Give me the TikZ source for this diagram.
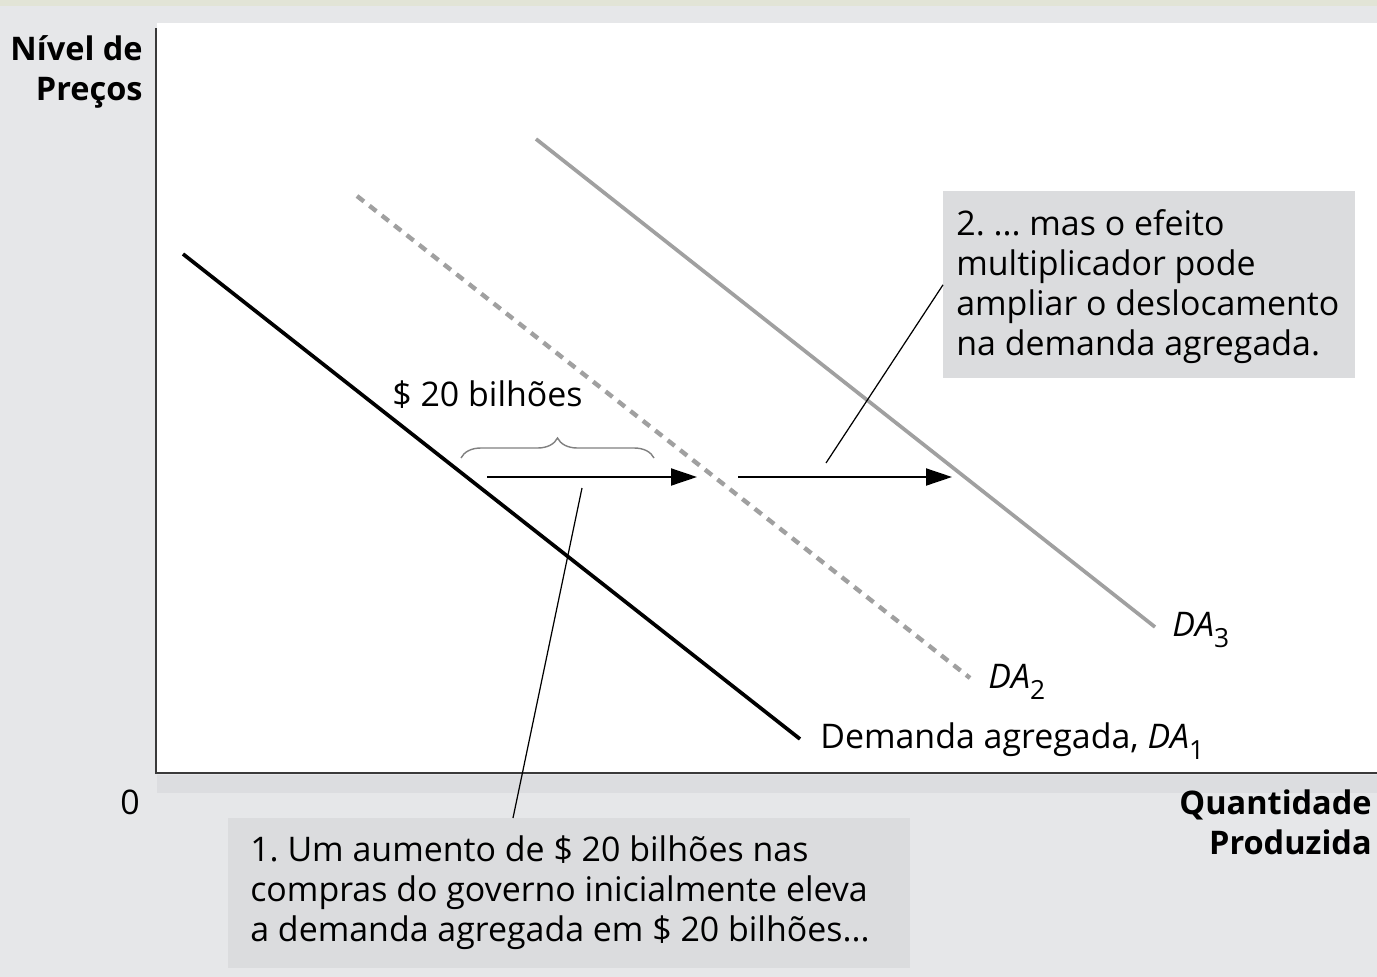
\documentclass[tikz,border=0pt]{standalone}
\usepackage{fontspec}
\setmainfont{Open Sans}
\usetikzlibrary{arrows.meta,decorations.pathreplacing}

\definecolor{pagegray}{HTML}{E6E7E9}
\definecolor{bandgray}{HTML}{DCDDE0}
\definecolor{boxgray}{HTML}{DBDCDE}
\definecolor{topstrip}{HTML}{E2E4D6}
\definecolor{curvegray}{HTML}{A0A0A0}
\definecolor{axisgray}{HTML}{3A3A3A}

\newcommand{\dasub}[1]{\textit{DA}\raisebox{-0.32em}{\fontsize{15}{15}\selectfont #1}}

\tikzset{
	lbl/.style={inner sep=0pt, font=\fontsize{19.3}{22.8}\selectfont},
	axlbl/.style={inner sep=0pt, align=right, font=\fontsize{18.5}{22.8}\selectfont\bfseries},
	notebox/.style={fill=boxgray, anchor=north west, inner sep=0pt},
	notetext/.style={lbl, anchor=north west, align=left},
	axisline/.style={axisgray, line width=1.4pt},
	moveto/.style={line width=1.1pt, -{Triangle[length=0.52cm,width=0.34cm]}},
	leader/.style={line width=0.7pt}
}

\begin{document}
\frenchspacing
\begin{tikzpicture}[x=0.02cm, y=-0.02cm]

	\useasboundingbox (0,0) rectangle (1377,977);
	\fill[pagegray] (0,0) rectangle (1377,977);
	\fill[topstrip] (0,0) rectangle (1377,6);
	\fill[white] (157,23) rectangle (1377,773);
	\fill[bandgray] (157,775) rectangle (1377,793);

	\draw[axisline] (156,28) -- (156,773) -- (1377,773);

	\draw[black, line width=2.1pt] (183,254) -- (800,739);
	\draw[curvegray, line width=2.5pt, dash pattern=on 5pt off 4pt] (357,196) -- (970,678);
	\draw[curvegray, line width=2.1pt] (536,139) -- (1155,627);

	\node[axlbl, anchor=east] (ylab) at (143,72) {Nível de\\Preços};
	\node[axlbl, anchor=east] (xlab) at (1372,822) {Quantidade\\Produzida};
	\node[lbl] (zero) at (130,802) {0};

	\node[lbl, anchor=west] (da1) at (820,741) {Demanda agregada, \dasub{1}};
	\node[lbl, anchor=west] (da2) at (988,682) {\dasub{2}};
	\node[lbl, anchor=west] (da3) at (1172,630) {\dasub{3}};

	\coordinate (a1) at (487,477);
	\coordinate (b1) at (697,477);
	\coordinate (a2) at (738,477);
	\coordinate (b2) at (952,477);
	\draw[moveto] (a1) -- (b1);
	\draw[moveto] (a2) -- (b2);

	\draw[gray, line width=0.8pt, decorate, decoration={brace, amplitude=0.4cm}] (461,458) -- (654,458);
	\node[lbl, anchor=west] (amt) at (392,395) {\$ 20 bilhões};

	\node[notebox, minimum width=8.24cm, minimum height=3.74cm] (note2) at (943,191) {};
	\node[notetext] (txt2) at (956,209)
		{2. ... mas o efeito\\multiplicador pode\\ampliar o deslocamento\\na demanda agregada.};
	\node[notebox, minimum width=13.64cm, minimum height=3cm] (note1) at (228,818) {};
	\node[notetext] (txt1) at (250,835)
		{1. Um aumento de \$ 20 bilhões nas\\compras do governo inicialmente eleva\\a demanda agregada em \$ 20 bilhões...};

	\coordinate (p1) at (582,488);
	\coordinate (q1) at (513,818);
	\coordinate (p2) at (826,463);
	\draw[leader] (p1) -- (q1);
	\draw[leader] (p2) -- (note2.west);

\end{tikzpicture}
\end{document}
